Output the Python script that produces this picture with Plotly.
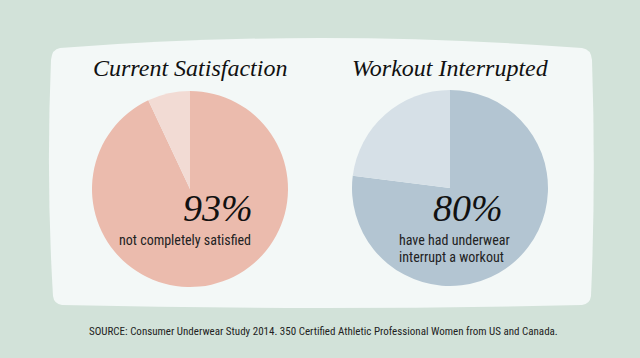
import plotly.graph_objects as go

# ---- data ----
chart_titles = ["Current Satisfaction", "Workout Interrupted"]
slice_labels = ["Yes", "No"]
satisfaction_values = [93, 7]
interrupted_values = [77, 23]
big_labels = ["93%", "80%"]
sub_labels_1 = ["not completely satisfied"]
sub_labels_2 = ["have had underwear", "interrupt a workout"]
source_text = "SOURCE: Consumer Underwear Study 2014. 350 Certified Athletic Professional Women from US and Canada."

W, H = 640, 358
BG = "#d2e2d9"
PANEL = "#f3f8f7"
pie1_colors = ["#ebbbad", "#f2dbd4"]
pie2_colors = ["#b3c5d2", "#d6e0e7"]

serif_it = "Liberation Serif, DejaVu Serif, serif"
narrow = "Roboto Condensed, DejaVu Sans Condensed, sans-serif"

def px_dom_x(a, b):
    return [a / W, b / W]

def px_dom_y(top, bottom):
    return [(H - bottom) / H, (H - top) / H]

fig = go.Figure()

fig.add_trace(go.Pie(
    values=satisfaction_values, labels=slice_labels, sort=False,
    direction="clockwise", rotation=0,
    marker=dict(colors=pie1_colors, line=dict(width=0)),
    textinfo="none", hoverinfo="skip", showlegend=False,
    domain=dict(x=px_dom_x(92, 288), y=px_dom_y(91, 287)),
))
fig.add_trace(go.Pie(
    values=interrupted_values, labels=slice_labels, sort=False,
    direction="clockwise", rotation=0,
    marker=dict(colors=pie2_colors, line=dict(width=0)),
    textinfo="none", hoverinfo="skip", showlegend=False,
    domain=dict(x=px_dom_x(352, 548), y=px_dom_y(90, 286)),
))

# panel shape in pixel coords on hidden axes
panel_path = ("M 60,48 Q 320,28 582,48 Q 591,49 592,60 Q 596,180 591,296 "
              "Q 590,304 582,305 Q 320,311 62,305 Q 54,304 53,296 "
              "Q 46,180 51,60 Q 52,49 60,48 Z")
fig.add_shape(type="path", path=panel_path, xref="x", yref="y",
              fillcolor=PANEL, line=dict(width=0), layer="below")

fig.update_xaxes(range=[0, W], visible=False, fixedrange=True)
fig.update_yaxes(range=[H, 0], visible=False, fixedrange=True)

def ann(text, x, y, size, family, xanchor="center", color="#111111"):
    fig.add_annotation(text=text, x=x, y=y, xref="x", yref="y",
                       xanchor=xanchor, yanchor="middle", showarrow=False,
                       font=dict(size=size, family=family, color=color))

ann("<i>" + chart_titles[0] + "</i>", 190, 68, 24, serif_it)
ann("<i>" + chart_titles[1] + "</i>", 450, 68, 24, serif_it)

ann("<i>" + big_labels[0] + "</i>", 255, 208, 38, serif_it, xanchor="right")
ann(sub_labels_1[0], 253, 240, 14, narrow, xanchor="right", color="#222222")

ann("<i>" + big_labels[1] + "</i>", 505, 208, 38, serif_it, xanchor="right")
ann(sub_labels_2[0], 397, 240, 14, narrow, xanchor="left", color="#222222")
ann(sub_labels_2[1], 397, 257, 14, narrow, xanchor="left", color="#222222")

ann(source_text, 323, 331, 11, narrow, color="#222222")

fig.update_layout(
    width=W, height=H, margin=dict(l=0, r=0, t=0, b=0),
    paper_bgcolor=BG, plot_bgcolor="rgba(0,0,0,0)",
)

fig.write_html("out.html", config={"displayModeBar": False, "staticPlot": True},
               post_script="document.body.style.margin='0';")
